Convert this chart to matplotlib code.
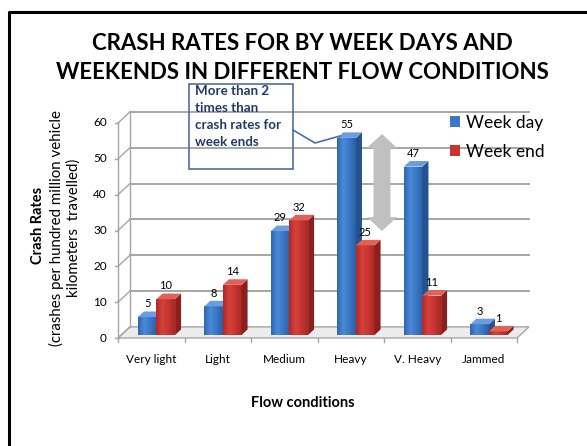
import numpy as np
import matplotlib.pyplot as plt
from matplotlib.patches import Polygon, Rectangle, FancyArrowPatch, ArrowStyle
from matplotlib.lines import Line2D
from matplotlib.colors import LinearSegmentedColormap

plt.rcParams["font.family"] = ["Lato", "DejaVu Sans"]

categories = ["Very light", "Light", "Medium", "Heavy", "V. Heavy", "Jammed"]
week_day = [5, 8, 29, 55, 47, 3]
week_end = [10, 14, 32, 25, 11, 1]
y_ticks = [0, 10, 20, 30, 40, 50, 60]

W, H = 587, 446
fig = plt.figure(figsize=(W / 100, H / 100), dpi=100)


def fx(px):
    return px / W


def fy(py):
    return 1 - py / H


# where the axis frame sits in the picture (pixels)
x0_px, x1_px = 118, 517   # x = -0.5 .. 5.5
y0_px, y60_px = 338, 123  # y = 0 .. 60
sx = (x1_px - x0_px) / 6
sy = (y0_px - y60_px) / 60
xlim = (-0.75, 5.9)
ylim = (-3, 66)
left = x0_px + (xlim[0] + 0.5) * sx
right = x0_px + (xlim[1] + 0.5) * sx
bottom = y0_px - ylim[0] * sy
top = y0_px - ylim[1] * sy
ax = fig.add_axes([fx(left), fy(bottom), (right - left) / W, (bottom - top) / H])
ax.axis("off")

# fake 3d depth
dx, dy = 0.18, 3.1
grid_c = "#a6a6a6"
n = len(categories)
xa, xb = -0.5, n - 0.5

# floor
ax.add_patch(Polygon([(xa, 0), (xb, 0), (xb + dx, dy), (xa + dx, dy)],
                     closed=True, fc="#ececec", ec=grid_c, lw=1, zorder=1))
# back wall grid + left wall
for t in y_ticks:
    if t > 0:
        ax.plot([xa + dx, xb + dx], [t + dy, t + dy], color=grid_c, lw=1.4, zorder=1)
    ax.plot([xa, xa + dx], [t, t + dy], color=grid_c, lw=1, zorder=1)
    ax.plot([xa - 0.05, xa], [t, t], color=grid_c, lw=1, zorder=1)
    ax.text(xa - 0.17, t, str(t), ha="right", va="center", fontsize=8.5)
ax.plot([xa + dx, xa + dx], [dy, y_ticks[-1] + dy], color=grid_c, lw=1, zorder=1)
ax.plot([xa, xa], [0, y_ticks[-1]], color=grid_c, lw=1, zorder=1)
for s in np.arange(n + 1) - 0.5:
    ax.plot([s, s], [0, -1.2], color=grid_c, lw=1, zorder=1)

# bars
w, f, d, shift = 0.28, 0.27, 0.5, 0.03
idx = np.arange(n)
series = [
    (week_day, idx - w + shift + f * dx,
     ("#3b78c8", "#24528f", "#6b9ce0", ["#2f66b0", "#4a8ad8", "#3a76c4", "#2c5ea6"]), 3),
    (week_end, idx + shift + f * dx,
     ("#c93330", "#8a1f1d", "#e0605a", ["#b02a27", "#d8413c", "#c63430", "#a82825"]), 4),
]
grad = np.linspace(0, 1, 64).reshape(1, -1)
handles = []
for vals, xs, (c_front, c_side, c_top, ramp), z in series:
    cmap = LinearSegmentedColormap.from_list("ramp", ramp)
    base = f * dy
    b = ax.bar(xs, vals, width=w, bottom=base, align="edge", color=c_front, zorder=z)
    handles.append(b)
    for rect, x, v in zip(b.patches, xs, vals):
        t = v + base
        im = ax.imshow(grad, cmap=cmap, aspect="auto", extent=(x, x + w, base, t),
                       zorder=z, interpolation="bilinear")
        im.set_clip_path(rect)
        ax.add_patch(Polygon([(x + w, base), (x + w + d * dx, base + d * dy),
                              (x + w + d * dx, t + d * dy), (x + w, t)],
                             closed=True, fc=c_side, ec="none", zorder=z))
        ax.add_patch(Polygon([(x, t), (x + w, t), (x + w + d * dx, t + d * dy),
                              (x + d * dx, t + d * dy)],
                             closed=True, fc=c_top, ec="none", zorder=z))
        ax.text(x + w / 2, t + d * dy + 0.6, str(v), ha="center", va="bottom",
                fontsize=8, zorder=6)

for i, lab in enumerate(categories):
    ax.text(i, -6.1, lab, ha="center", va="center", fontsize=8.5)

ax.set_xlim(xlim)
ax.set_ylim(ylim)

# titles and labels
fig.text(fx(302), fy(50), "CRASH RATES FOR BY WEEK DAYS AND", ha="center",
         va="baseline", fontsize=16, fontweight="bold")
fig.text(fx(302), fy(79), "WEEKENDS IN DIFFERENT FLOW CONDITIONS", ha="center",
         va="baseline", fontsize=16, fontweight="bold")
fig.text(fx(38), fy(225), "Crash Rates", rotation=90, ha="center", va="center",
         fontsize=10.5, fontweight="bold")
fig.text(fx(56), fy(228), "(crashes per hundred million vehicle", rotation=90,
         ha="center", va="center", fontsize=10.8)
fig.text(fx(74), fy(228), "kilometers  travelled)", rotation=90,
         ha="center", va="center", fontsize=10.8)
fig.text(fx(303), fy(403), "Flow conditions", ha="center", va="center",
         fontsize=10.5, fontweight="bold")

fig.legend(handles=handles, labels=["Week day", "Week end"], loc="upper left",
           bbox_to_anchor=(fx(450), fy(115)), frameon=False, fontsize=12.5,
           handlelength=0.6, handleheight=0.6, handletextpad=0.3,
           labelspacing=0.75, borderpad=0, borderaxespad=0)

# callout box
box_c = "#4f6fa0"
fig.add_artist(Rectangle((fx(189), fy(169)), (293 - 189) / W, (169 - 84) / H,
                         transform=fig.transFigure, fill=False, ec=box_c, lw=1.2))
fig.text(fx(195), fy(85), "More than 2\ntimes than\ncrash rates for\nweek ends",
         ha="left", va="top", fontsize=9.6, fontweight="bold", color="#1f3a6e",
         linespacing=1.5)
fig.add_artist(Line2D([fx(293), fx(315), fx(340)], [fy(130), fy(143), fy(136)],
                      transform=fig.transFigure, color=box_c, lw=1.2))

# grey double arrow
style = ArrowStyle.Simple(head_length=10, head_width=21.6, tail_width=12.2)
for end in (134, 231):
    fig.add_artist(FancyArrowPatch((fx(382), fy(182)), (fx(382), fy(end)),
                                   transform=fig.transFigure, arrowstyle=style,
                                   mutation_scale=1, color="#c0c0c0",
                                   shrinkA=0, shrinkB=0, lw=0))

# slide border
fig.add_artist(Line2D([fx(8.5), fx(8.5), fx(600)], [fy(460), fy(11.5), fy(11.5)],
                      transform=fig.transFigure, color="black", lw=2.2))

fig.savefig("out.png", dpi=100)
